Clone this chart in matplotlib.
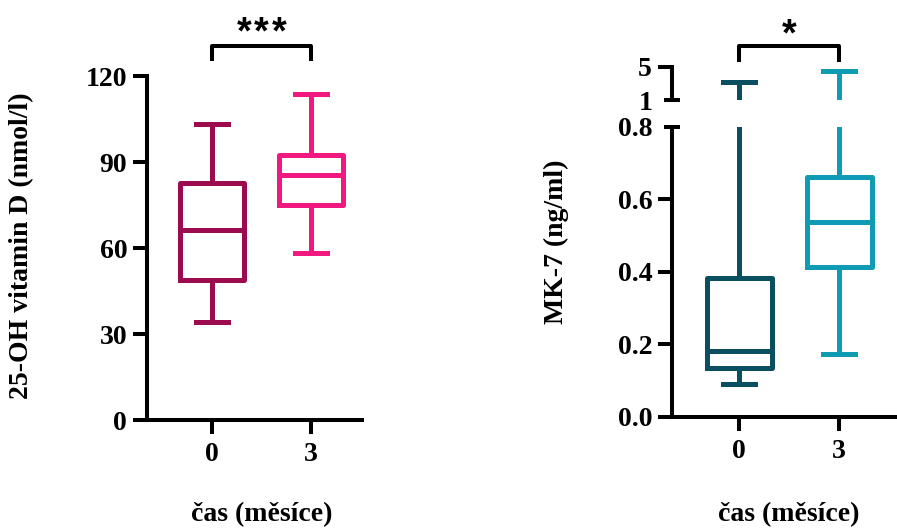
import matplotlib.pyplot as plt
import matplotlib.ticker as mticker

plt.rcParams['font.family'] = ['Liberation Serif', 'DejaVu Serif']
plt.rcParams['font.weight'] = 'bold'
plt.rcParams['font.size'] = 20

# skupiny (cas v mesicich)
skupiny = ['0', '3']

# 25-OH vitamin D (nmol/l): min, Q1, median, Q3, max
vitd_min = [34.3, 58.2]
vitd_q1 = [48.8, 75.0]
vitd_med = [66.3, 85.5]
vitd_q3 = [82.7, 92.4]
vitd_max = [103.3, 113.7]
vitd_barvy = ['#9c0b4e', '#f1197f']

# MK-7 (ng/ml)
mk7_min = [0.089, 0.172]
mk7_q1 = [0.133, 0.414]
mk7_med = [0.181, 0.536]
mk7_q3 = [0.382, 0.662]
mk7_max = [3.2, 4.5]
mk7_barvy = ['#0a4f5f', '#109bb5']

lw_osa = 2.9
lw_box = 3.6


def staty(lo, q1, med, q3, hi):
    return [dict(whislo=a, q1=b, med=c, q3=d, whishi=e, fliers=[])
            for a, b, c, d, e in zip(lo, q1, med, q3, hi)]


def kresli_boxy(ax, st, barvy):
    for i, (s, c) in enumerate(zip(st, barvy)):
        props = dict(color=c, linewidth=lw_box)
        ax.bxp([s], positions=[i], widths=0.65, showfliers=False,
               boxprops=props, medianprops=props, whiskerprops=props,
               capprops=props)


def styl_osy(ax):
    for sp in ax.spines.values():
        sp.set_linewidth(lw_osa)
        sp.set_capstyle('projecting')
    ax.spines['top'].set_visible(False)
    ax.spines['right'].set_visible(False)
    ax.tick_params(which='major', direction='out', length=10, width=lw_osa, pad=4.3)


def hvezdy(ax, x, y, n, krok):
    # hvezdicky vyznamnosti
    for k in range(n):
        ax.text(x + (k - (n - 1) / 2) * krok, y, '*', ha='center', va='baseline',
                fontsize=27, family='Liberation Sans', fontweight='bold', clip_on=False)


fig = plt.figure(figsize=(8.97, 5.28), dpi=100)
W, H = 897, 528

# ---- levy graf ----
ax1 = fig.add_axes([147 / W, 1 - 420 / H, 215 / W, 344 / H])
kresli_boxy(ax1, staty(vitd_min, vitd_q1, vitd_med, vitd_q3, vitd_max), vitd_barvy)
ax1.set_xlim(-0.657, 1.515)
ax1.set_ylim(0, 120)
ax1.set_yticks([0, 30, 60, 90, 120])
ax1.set_xticks([0, 1])
ax1.set_xticklabels(skupiny)
styl_osy(ax1)
ax1.tick_params(axis='x', pad=6)
ax1.plot([0, 0, 1, 1], [125.2, 130.6, 130.6, 125.2], color='black',
         linewidth=lw_osa, clip_on=False, solid_capstyle='butt')
hvezdy(ax1, 0.5, 131.3, 3, 0.18)

# ---- pravy graf (prerusena osa) ----
ax2 = fig.add_axes([672 / W, 1 - 416.7 / H, 225 / W, 290 / H])
ax3 = fig.add_axes([672 / W, 1 - 100 / H, 225 / W, 33.3 / H])
st2 = staty(mk7_min, mk7_q1, mk7_med, mk7_q3, mk7_max)
for ax in (ax2, ax3):
    kresli_boxy(ax, st2, mk7_barvy)
    ax.set_xlim(-0.67, 1.58)
    styl_osy(ax)

ax2.set_ylim(0, 0.8)
ax2.set_yticks([0, 0.2, 0.4, 0.6])
ax2.set_yticks([0.8], minor=True)
ax2.yaxis.set_major_formatter(mticker.FormatStrFormatter('%.1f'))
ax2.yaxis.set_minor_formatter(mticker.FormatStrFormatter('%.1f'))
ax2.tick_params(axis='y', which='minor', direction='inout', length=12,
                width=lw_osa, pad=8.3, labelsize=20)
ax2.set_xticks([0, 1])
ax2.set_xticklabels(skupiny)
ax2.tick_params(axis='x', pad=6)

ax3.set_ylim(1, 5)
ax3.set_yticks([5])
ax3.set_yticks([1], minor=True)
ax3.yaxis.set_minor_formatter(mticker.FormatStrFormatter('%d'))
ax3.tick_params(axis='y', which='minor', direction='inout', length=12,
                width=lw_osa, pad=8.3, labelsize=20)
ax3.spines['bottom'].set_visible(False)
ax3.set_xticks([])
ax3.plot([0, 0, 1, 1], [5.56, 7.48, 7.48, 5.56], color='black',
         linewidth=lw_osa, clip_on=False, solid_capstyle='butt')
hvezdy(ax3, 0.5, 7.6, 1, 0.18)

# popisky
fig.text(22 / W, 1 - 245.5 / H, '25-OH vitamin D (nmol/l)', rotation=90,
         ha='center', va='center')
fig.text(556 / W, 1 - 241.7 / H, 'MK-7 (ng/ml)', rotation=90,
         ha='center', va='center')
fig.text(262 / W, 1 - 515 / H, 'čas (měsíce)', ha='center', va='center')
fig.text(789 / W, 1 - 515 / H, 'čas (měsíce)', ha='center', va='center')

fig.savefig('out.png', dpi=100)
